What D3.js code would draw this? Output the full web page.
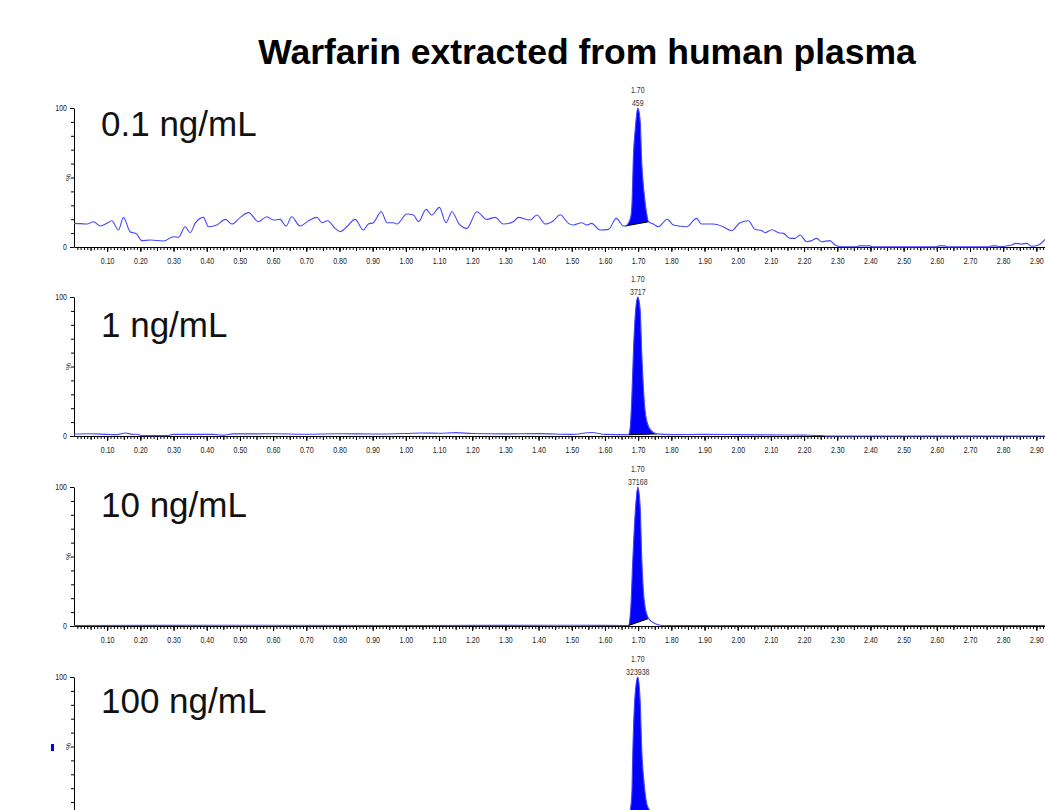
<!doctype html>
<html lang="en">
<head>
<meta charset="utf-8">
<title>Warfarin extracted from human plasma</title>
<script src="https://d3js.org/d3.v7.min.js"></script>
<style>
  body { margin: 0; background: #fff; }
  svg { display: block; font-family: "Liberation Sans", Arial, sans-serif; }
</style>
</head>
<body>
<svg width="1045" height="810"></svg>
<script>
// --- data (time in min, relative intensity in %) ---
var concLabels = ['0.1 ng/mL', '1 ng/mL', '10 ng/mL', '100 ng/mL'];
var peakTimes = ['1.70', '1.70', '1.70', '1.70'];
var peakAreas = ['459', '3717', '37168', '323938'];
var peakStart = [1.661, 1.671, 1.671, 1.671];
var peakEnd = [1.731, 1.756, 1.731, 1.780];

var trace01 = [
  [0.000, 17.0], [0.020, 16.8], [0.039, 16.5], [0.059, 18.2], [0.079, 15.1], [0.099, 17.0],
  [0.114, 18.9], [0.134, 12.2], [0.149, 21.3], [0.169, 11.0], [0.189, 9.4], [0.204, 4.6],
  [0.230, 5.0], [0.270, 4.3], [0.300, 7.4], [0.315, 7.0], [0.335, 14.6], [0.350, 10.3],
  [0.365, 17.0], [0.390, 21.3], [0.405, 14.6], [0.430, 15.8], [0.456, 19.9], [0.476, 16.5],
  [0.501, 21.3], [0.526, 24.7], [0.556, 18.2], [0.581, 21.8], [0.601, 19.4], [0.621, 19.9],
  [0.639, 15.1], [0.656, 21.8], [0.681, 15.1], [0.707, 18.9], [0.732, 21.3], [0.747, 17.5],
  [0.764, 18.9], [0.787, 13.4], [0.802, 11.0], [0.822, 14.6], [0.847, 19.9], [0.872, 12.2],
  [0.887, 16.5], [0.902, 17.5], [0.926, 25.4], [0.943, 17.5], [0.963, 17.5], [0.973, 16.5],
  [1.003, 23.7], [1.023, 23.0], [1.038, 18.2], [1.061, 27.1], [1.078, 23.0], [1.101, 28.5],
  [1.121, 17.5], [1.139, 25.4], [1.159, 17.0], [1.184, 13.4], [1.214, 25.4], [1.244, 19.9],
  [1.269, 21.3], [1.294, 16.5], [1.324, 18.2], [1.339, 21.3], [1.374, 19.4], [1.395, 23.0],
  [1.420, 16.5], [1.445, 18.9], [1.465, 23.2], [1.490, 17.0], [1.505, 15.8], [1.530, 17.5],
  [1.545, 15.8], [1.560, 17.0], [1.585, 12.2], [1.611, 12.7], [1.634, 20.6], [1.656, 15.1],
  [1.661, 15.1], [1.676, 20.0], [1.681, 29.0], [1.686, 67.0], [1.691, 84.0], [1.699, 100],
  [1.706, 91.0], [1.711, 60.0], [1.718, 38.6], [1.724, 26.6], [1.731, 18.2], [1.746, 16.5],
  [1.761, 14.6], [1.788, 20.0], [1.806, 15.8], [1.846, 14.6], [1.876, 20.6], [1.891, 16.5],
  [1.926, 16.5], [1.956, 14.6], [1.981, 11.7], [2.007, 17.5], [2.032, 18.9], [2.052, 12.7],
  [2.073, 11.7], [2.082, 10.3], [2.103, 12.4], [2.123, 10.3], [2.138, 9.8], [2.158, 6.2],
  [2.173, 6.2], [2.188, 8.6], [2.208, 3.8], [2.223, 4.6], [2.238, 6.2], [2.253, 3.8],
  [2.278, 4.6], [2.293, 1.4], [2.313, 0.2], [2.360, 0.2], [2.365, 0.8], [2.400, 0.8],
  [2.405, 0.1], [2.600, 0.1], [2.605, 0.8], [2.625, 0.8], [2.630, 0.1], [2.760, 0.1],
  [2.765, 0.8], [2.780, 0.8], [2.785, 0.1], [2.826, 1.4], [2.836, 2.6], [2.856, 2.2],
  [2.871, 2.6], [2.886, 0.5], [2.906, 1.4], [2.926, 5.5]
];

var trace1 = [
  [0.000, 1.4], [0.050, 1.6], [0.100, 1.2], [0.130, 1.0], [0.155, 2.2], [0.175, 1.2],
  [0.190, 1.3], [0.205, 0.3], [0.280, 0.3], [0.300, 1.2], [0.420, 1.2], [0.450, 0.6],
  [0.480, 1.5], [0.600, 1.6], [0.700, 1.3], [0.800, 1.6], [0.900, 1.4], [1.000, 1.8],
  [1.050, 2.2], [1.100, 2.0], [1.150, 2.4], [1.200, 1.8], [1.300, 1.5], [1.400, 1.7],
  [1.500, 1.2], [1.560, 2.5], [1.600, 1.2], [1.671, 1.0], [1.676, 6.0], [1.681, 28.0],
  [1.686, 62.0], [1.691, 86.0], [1.699, 100], [1.706, 91.0], [1.711, 59.0], [1.721, 18.0],
  [1.731, 7.0], [1.741, 3.5], [1.756, 1.5], [1.800, 1.0], [1.900, 1.2], [2.000, 1.0],
  [2.100, 0.8], [2.200, 0.6], [2.250, 0.4], [2.270, 0.0], [2.926, 0.0]
];

var trace10 = [
  [0.000, 0.4], [0.500, 0.5], [1.000, 0.4], [1.500, 0.5], [1.671, 0.4], [1.678, 14.0],
  [1.684, 48.0], [1.691, 81.0], [1.699, 100], [1.706, 86.0], [1.711, 48.0], [1.718, 19.0],
  [1.728, 7.0], [1.731, 5.5], [1.745, 2.5], [1.760, 0.9], [1.775, 0.4], [2.000, 0.4],
  [2.926, 0.4]
];

var trace100 = [
  [0.000, 0.3], [1.660, 0.3], [1.671, 1.0], [1.676, 4.0], [1.681, 16.0], [1.684, 47.0],
  [1.691, 88.0], [1.699, 100], [1.706, 83.0], [1.711, 47.0], [1.718, 23.5], [1.728, 7.0],
  [1.740, 3.0], [1.760, 1.2], [1.780, 0.5], [1.900, 0.3], [2.926, 0.3]
];

var traces = [trace01, trace1, trace10, trace100];

// --- layout ---
var panelTop = [108, 297, 487, 677];
var panelH = 139;
var labelDrop = [28, 40, 30, 36];
var narrow = 'scale(0.78,1)';
var svgH = 810;

var svg = d3.select('svg');
svg.append('rect').attr('width', 1045).attr('height', svgH).attr('fill', '#fff');

var x = d3.scaleLinear().domain([0, 2.926]).range([74, 1045]);

svg.append('text')
  .attr('x', 587).attr('y', 64)
  .attr('text-anchor', 'middle')
  .attr('font-size', 35.5).attr('font-weight', 'bold')
  .text('Warfarin extracted from human plasma');

var cleanAxis = function(s){
  s.attr('font-family', null).attr('font-size', null);
};

traces.forEach(function(trace, i){
  var top = panelTop[i], bottom = top + panelH;
  var y = d3.scaleLinear().domain([0, 100]).range([bottom, top]);
  var g = svg.append('g');

  // x axis: 0.01 minor, 0.05 medium, 0.10 labelled (labels only where they fit on the page)
  var showLabels = bottom + 16 < svgH;
  g.append('g').attr('transform', 'translate(0,' + bottom + ')')
    .call(d3.axisBottom(x).tickValues(d3.range(1, 293).map(function(k){ return k / 100; }))
      .tickSize(3).tickSizeOuter(0).tickFormat(''))
    .call(function(s){ s.select('.domain').remove(); });
  g.append('g').attr('transform', 'translate(0,' + bottom + ')')
    .call(d3.axisBottom(x).tickValues(d3.range(1, 59).map(function(k){ return k * 5 / 100; }))
      .tickSize(4).tickSizeOuter(0).tickFormat(''))
    .call(function(s){ s.select('.domain').remove(); });
  g.append('g').attr('transform', 'translate(0,' + bottom + ')')
    .call(d3.axisBottom(x).tickValues(d3.range(1, 30).map(function(k){ return k / 10; }))
      .tickSize(5).tickSizeOuter(0).tickFormat(showLabels ? d3.format('.2f') : ''))
    .call(cleanAxis)
    .call(function(s){
      s.selectAll('text').attr('y', 11).attr('font-size', 9).attr('fill', '#222')
        .attr('transform', narrow);
    });

  // y axis
  g.append('g').attr('transform', 'translate(' + x(0) + ',0)')
    .call(d3.axisLeft(y).tickValues(d3.range(10, 100, 10)).tickSize(3).tickFormat(''))
    .call(function(s){ s.select('.domain').remove(); });
  g.append('g').attr('transform', 'translate(' + x(0) + ',0)')
    .call(d3.axisLeft(y).tickValues(showLabels ? [0, 100] : [100]).tickSize(4).tickSizeOuter(0))
    .call(cleanAxis)
    .call(function(s){
      s.selectAll('text').attr('x', -9).attr('font-size', 9).attr('fill', '#222')
        .attr('transform', narrow);
    });
  g.append('text')
    .attr('transform', 'translate(' + (x(0) - 3.5) + ',' + y(50) + ') rotate(-90)')
    .attr('text-anchor', 'middle').attr('font-size', 8).attr('fill', '#222')
    .text('%');

  // integrated peak
  var s0 = peakStart[i], e0 = peakEnd[i];
  var pts = trace.filter(function(d){ return d[0] >= s0 - 1e-9 && d[0] <= e0 + 1e-9; });
  var b0 = pts[0][1], b1 = pts[pts.length - 1][1];
  var base = function(t){ return b0 + (b1 - b0) * (t - s0) / (e0 - s0); };
  g.append('path')
    .attr('d', d3.area()
      .x(function(d){ return x(d[0]); })
      .y0(function(d){ return y(base(d[0])); })
      .y1(function(d){ return y(d[1]); })
      .curve(d3.curveMonotoneX)(pts))
    .attr('fill', '#0000ff');
  g.append('line')
    .attr('x1', x(s0)).attr('y1', y(b0)).attr('x2', x(e0)).attr('y2', y(b1))
    .attr('stroke', '#000').attr('stroke-width', 1.2);

  // chromatogram trace
  g.append('path')
    .attr('d', d3.line()
      .x(function(d){ return x(d[0]); })
      .y(function(d){ return y(d[1]); })
      .curve(d3.curveMonotoneX)(trace))
    .attr('fill', 'none').attr('stroke', '#4646ff').attr('stroke-width', 1.1);

  // peak annotation
  var apex = trace.reduce(function(a, d){ return d[1] > a[1] ? d : a; });
  [peakTimes[i], peakAreas[i]].forEach(function(t, k){
    g.append('text')
      .attr('transform', 'translate(' + x(apex[0]) + ',' + (top - 15 + k * 12.5) + ') ' + narrow)
      .attr('text-anchor', 'middle').attr('font-size', 9).attr('fill', '#333')
      .text(t);
  });

  g.append('text')
    .attr('x', 101).attr('y', top + labelDrop[i])
    .attr('font-size', 35).attr('fill', '#111')
    .text(concLabels[i]);
});

// stray marker at the left of the last trace
svg.append('rect').attr('x', 51).attr('y', 744).attr('width', 3).attr('height', 7).attr('fill', '#0000ff');
</script>
</body>
</html>
